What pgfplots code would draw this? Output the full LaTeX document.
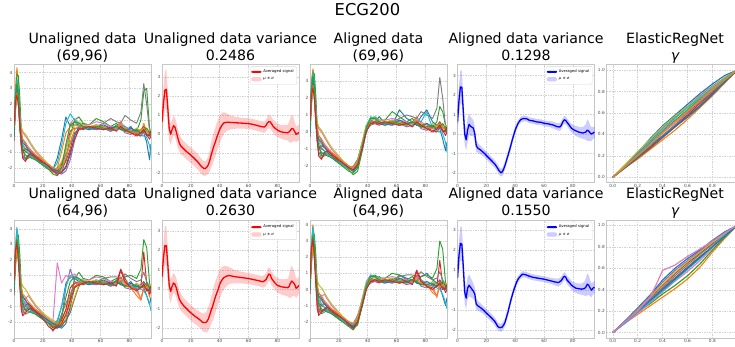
\documentclass[border=0pt]{standalone}
\usepackage{fontspec}
\setmainfont{DejaVu Sans}
\usepackage{pgfplots}
\usepackage{pgfplotstable}
\pgfplotsset{compat=1.18}
\usepgfplotslibrary{fillbetween}

\definecolor{c0}{HTML}{1F77B4}
\definecolor{c1}{HTML}{FF7F0E}
\definecolor{c2}{HTML}{2CA02C}
\definecolor{c3}{HTML}{D62728}
\definecolor{c4}{HTML}{9467BD}
\definecolor{c5}{HTML}{8C564B}
\definecolor{c6}{HTML}{E377C2}
\definecolor{c7}{HTML}{7F7F7F}
\definecolor{c8}{HTML}{BCBD22}
\definecolor{c9}{HTML}{17BECF}
\definecolor{mred}{HTML}{FF0000}
\definecolor{mblue}{HTML}{0000FF}
\definecolor{pred}{HTML}{FFCCCC}
\definecolor{pblue}{HTML}{CCCCFF}
\pgfplotscreateplotcyclelist{tab}{{c0},{c1},{c2},{c3},{c4},{c5},{c6},{c7},{c8},{c9}}

% ---------- Unaligned data, row 1 ----------
\pgfplotstableread{
name 0 1 2 3 4 5 6 8 10 12 15 18 21 24 27 30 33 36 39 42 45 48 52 57 62 67 71 74 77 81 85 88 90 92 94 95
a 0.5 2.5 3.6 2.8 0.8 -0.6 -1.3 -1.4 -1.2 -1.3 -1.5 -1.6 -1.8 -2.0 -2.1 -1.4 -0.2 1.2 0.6 0.9 0.6 0.8 0.5 0.4 0.5 0.3 0.7 0.5 0.3 0.6 0.1 0.4 0.2 -0.4 -1.5 -0.5
b 0.0 3.0 4.3 3.5 1.5 0.0 -0.5 -0.8 -1.0 -1.2 -1.4 -1.6 -1.9 -2.1 -2.3 -2.0 -1.0 0.2 0.6 0.7 0.6 0.6 0.5 0.6 0.4 0.5 0.6 0.9 0.5 0.3 0.4 0.2 0.8 0.3 0.0 0.2
c 0.2 2.0 3.9 3.8 2.5 0.5 -0.8 -1.5 -1.3 -1.2 -1.3 -1.5 -1.7 -1.9 -2.0 -2.2 -2.3 -1.5 0.0 1.0 1.2 0.8 0.7 1.1 0.9 0.6 0.8 0.5 0.4 0.5 0.3 1.0 2.8 3.0 0.5 0.2
d 0.5 1.8 2.8 2.5 0.5 -0.5 -1.0 -0.8 -0.9 -1.0 -1.2 -1.4 -1.6 -1.8 -2.0 -2.2 -1.8 -0.8 0.3 0.5 0.5 0.4 0.6 0.5 0.4 0.6 0.5 0.7 0.3 0.2 0.1 0.0 0.3 0.1 -0.2 0.0
e 1.0 2.5 3.0 2.2 1.0 0.2 -0.2 -0.5 -0.8 -1.0 -1.3 -1.5 -1.7 -1.9 -2.1 -2.3 -2.4 -2.2 -1.5 -0.3 0.5 0.6 0.5 0.4 0.5 0.3 0.4 0.6 0.2 0.1 0.3 0.2 0.5 0.0 0.1 0.3
f -0.3 1.5 2.6 2.0 0.6 -0.3 -0.8 -1.0 -1.1 -1.2 -1.4 -1.6 -1.8 -2.0 -2.2 -2.3 -2.0 -1.6 -0.8 0.2 0.4 0.6 0.5 0.7 0.6 0.5 0.6 0.4 0.4 0.2 0.3 0.4 0.6 0.3 0.2 0.0
g 0.8 2.2 2.9 2.4 1.5 0.5 0.2 0.0 -0.3 -0.6 -1.0 -1.3 -1.6 -1.9 -2.2 -2.5 -2.2 -1.0 0.8 1.1 0.8 0.7 0.7 0.9 0.8 0.6 0.5 0.8 0.6 0.4 0.3 0.1 0.4 0.2 0.3 0.4
h 0.3 2.8 3.4 2.6 0.8 -0.5 -1.2 -1.5 -1.4 -1.3 -1.5 -1.7 -1.9 -2.1 -2.2 -2.0 -1.7 -1.2 -0.5 0.1 0.4 0.5 0.4 0.6 0.8 1.1 0.9 0.8 1.3 1.0 0.8 1.5 3.3 2.0 0.3 0.1
i 0.4 1.9 2.4 2.0 1.2 0.6 0.3 0.1 -0.2 -0.5 -0.9 -1.2 -1.5 -1.8 -2.0 -2.1 -1.6 -0.9 0.0 0.7 0.9 0.7 0.6 0.7 0.5 0.4 0.6 0.5 0.3 0.2 0.5 0.3 0.4 0.2 0.4 0.3
j 0.1 2.6 3.5 3.0 1.2 0.0 -0.6 -0.9 -1.1 -1.3 -1.5 -1.7 -1.8 -2.0 -2.1 -1.7 -0.6 0.8 1.4 1.0 0.7 0.6 0.5 0.5 0.4 0.5 0.4 0.7 0.6 0.3 0.2 0.1 0.0 -0.1 -0.6 -1.2
k 0.0 2.2 3.2 2.6 1.0 0.0 -0.4 -0.6 -0.9 -1.1 -1.3 -1.5 -1.7 -1.9 -2.1 -2.2 -2.3 -2.0 -1.2 0.0 0.6 0.5 0.4 0.5 0.7 0.5 0.6 0.4 0.3 0.5 0.3 0.2 0.4 0.1 0.0 0.3
l 0.6 2.0 2.7 2.2 1.0 0.3 -0.2 -0.4 -0.7 -0.9 -1.2 -1.4 -1.6 -1.8 -2.0 -2.1 -1.9 -1.4 -0.4 0.4 0.6 0.5 0.6 0.5 0.6 0.4 0.5 0.7 0.4 0.3 0.2 0.4 0.5 0.3 0.1 0.2
m 0.3 2.4 3.3 2.7 1.1 -0.2 -0.9 -1.2 -1.3 -1.4 -1.5 -1.7 -1.9 -2.1 -2.4 -2.5 -2.0 -0.5 0.7 0.9 0.8 0.6 0.5 0.6 0.5 0.4 0.6 0.5 0.3 0.3 0.4 0.2 0.3 0.5 0.2 0.1
n 0.7 2.1 2.6 2.0 0.8 -0.4 -1.4 -1.6 -1.2 -1.1 -1.3 -1.5 -1.7 -1.9 -2.2 -2.4 -2.3 -1.9 -1.0 -0.2 0.4 0.5 0.6 0.5 0.4 0.5 0.3 0.6 0.4 0.2 0.0 0.2 0.4 0.0 0.1 0.3
}\rawUA
\pgfplotstabletranspose[colnames from=name, input colnames to=x]{\tabUA}{\rawUA}

% ---------- Aligned data, row 1 ----------
\pgfplotstableread{
name 0 1 2 3 4 5 6 8 10 12 15 18 21 24 27 30 33 36 39 42 45 48 52 57 62 67 71 74 77 81 85 88 90 92 94 95
a 0.5 2.6 3.6 2.7 0.8 -0.5 -1.2 -1.3 -1.2 -1.3 -1.5 -1.6 -1.8 -2.0 -2.1 -2.3 -1.8 -0.9 0.2 0.7 0.6 0.9 0.5 0.4 1.3 0.8 0.6 0.5 0.9 1.3 0.6 0.4 0.2 -0.4 -1.1 -0.6
b 0.0 3.0 3.7 3.3 1.4 0.0 -0.5 -0.7 -0.9 -1.1 -1.3 -1.5 -1.7 -1.9 -2.1 -2.3 -2.0 -1.0 0.1 0.6 0.6 0.6 0.5 0.6 0.4 0.5 0.6 0.9 0.5 0.3 0.4 0.2 0.6 0.3 0.0 0.2
c 0.2 2.1 3.5 3.4 2.2 0.4 -0.8 -1.4 -1.3 -1.3 -1.4 -1.6 -1.8 -2.0 -2.2 -2.5 -2.3 -1.2 0.0 0.8 0.9 0.7 0.7 1.2 0.9 0.6 0.8 0.5 0.4 0.5 0.3 0.6 1.5 1.2 0.4 0.2
d 0.5 1.8 2.8 2.5 0.5 -0.5 -1.0 -0.8 -0.9 -1.0 -1.2 -1.4 -1.6 -1.8 -2.0 -2.1 -1.7 -0.7 0.3 0.5 0.5 0.4 0.6 0.5 0.4 0.6 0.5 0.7 0.3 0.2 0.1 0.0 0.3 0.1 -0.2 0.0
e 1.0 2.5 3.0 2.2 1.0 0.2 -0.2 -0.5 -0.8 -1.0 -1.3 -1.5 -1.7 -1.9 -2.0 -2.1 -1.8 -0.9 0.2 0.5 0.6 0.6 0.5 0.4 0.5 0.3 0.4 0.6 0.2 0.1 0.3 0.2 0.5 0.0 0.1 0.3
f -0.3 1.5 2.6 2.0 0.6 -0.3 -0.8 -1.0 -1.1 -1.2 -1.4 -1.6 -1.8 -2.0 -2.1 -2.2 -1.9 -0.8 0.3 0.5 0.5 0.6 0.5 0.7 0.6 0.5 0.6 0.4 0.4 0.2 0.3 0.4 0.6 0.3 0.2 0.0
g 0.8 2.2 2.9 2.4 1.5 0.5 0.2 0.0 -0.3 -0.6 -1.0 -1.3 -1.6 -1.8 -2.0 -2.2 -1.9 -0.8 0.4 0.8 0.7 0.7 0.7 0.8 0.7 0.6 0.5 0.8 0.6 0.4 0.3 0.1 0.4 0.2 0.3 0.4
h 0.3 2.8 3.4 2.6 0.8 -0.5 -1.2 -1.5 -1.4 -1.3 -1.5 -1.7 -1.9 -2.0 -2.1 -2.0 -1.6 -0.7 0.1 0.4 0.5 0.5 0.4 0.6 0.8 1.0 0.9 0.8 1.2 1.0 0.8 1.4 3.2 2.0 0.3 0.1
i 0.4 1.9 2.4 2.0 1.2 0.6 0.3 0.1 -0.2 -0.5 -0.9 -1.2 -1.5 -1.8 -2.0 -2.1 -1.7 -0.6 0.4 0.7 0.8 0.7 0.6 0.7 0.5 0.4 0.6 0.5 0.3 0.2 0.5 0.3 0.4 0.2 0.4 0.3
j 0.1 2.6 3.5 3.0 1.2 0.0 -0.6 -0.9 -1.1 -1.3 -1.5 -1.7 -1.8 -2.0 -2.1 -2.2 -1.8 -0.8 0.3 0.9 0.8 0.6 0.5 0.5 0.4 0.5 0.4 0.7 0.6 1.2 0.2 0.1 0.0 -0.1 -0.6 -1.2
k 0.0 2.2 3.2 2.6 1.0 0.0 -0.4 -0.6 -0.9 -1.1 -1.3 -1.5 -1.7 -1.9 -2.1 -2.3 -2.0 -1.1 0.0 0.6 0.6 0.5 0.4 0.5 0.7 0.5 0.6 0.4 0.3 0.5 0.3 0.2 0.4 0.1 0.0 0.3
l 0.6 2.0 2.7 2.2 1.0 0.3 -0.2 -0.4 -0.7 -0.9 -1.2 -1.4 -1.6 -1.8 -2.0 -2.1 -1.8 -0.9 0.2 0.6 0.6 0.5 0.6 0.5 0.6 0.4 0.5 0.7 0.4 0.3 0.2 0.4 0.5 0.3 0.1 0.2
m 0.3 2.4 3.3 2.7 1.1 -0.2 -0.9 -1.2 -1.3 -1.4 -1.5 -1.7 -1.9 -2.1 -2.3 -2.4 -2.1 -1.0 0.2 0.8 0.8 0.6 0.5 0.6 0.5 0.4 0.6 0.5 0.3 0.3 0.4 0.2 0.3 0.5 0.2 0.1
n 0.7 2.1 2.6 2.0 0.8 -0.4 -1.4 -1.6 -1.2 -1.1 -1.3 -1.5 -1.7 -1.9 -2.1 -2.2 -1.9 -1.0 0.0 0.5 0.6 0.5 0.6 0.5 0.4 0.5 0.3 0.6 0.4 0.2 0.0 0.2 0.4 0.0 0.1 0.3
}\rawAA
\pgfplotstabletranspose[colnames from=name, input colnames to=x]{\tabAA}{\rawAA}

% ---------- Unaligned data, row 2 ----------
\pgfplotstableread{
name 0 1 2 3 4 5 6 8 10 12 15 18 21 24 27 30 33 36 39 42 45 48 52 57 62 67 71 74 77 81 85 88 90 92 94 95
a 0.3 2.4 3.3 2.6 0.9 -0.4 -1.0 -1.2 -1.1 -1.3 -1.4 -1.6 -1.8 -2.0 -2.2 -2.0 -1.0 0.5 0.9 0.8 0.6 0.7 0.5 0.4 0.6 0.3 0.7 0.5 0.3 0.6 0.1 0.3 0.2 -0.3 -0.9 -0.4
b 0.0 2.8 4.0 3.2 1.3 0.0 -0.5 -0.8 -1.0 -1.2 -1.4 -1.6 -1.8 -2.0 -2.2 -2.3 -1.8 -1.2 -0.3 0.5 0.6 0.6 0.5 0.7 0.4 0.5 0.6 0.9 0.5 0.2 -0.3 -0.6 0.2 0.3 -0.4 0.2
c 0.2 2.0 3.5 3.6 2.4 0.5 -0.7 -1.3 -1.2 -1.2 -1.3 -1.5 -1.7 -1.9 -2.0 -2.2 -2.3 -1.8 -0.5 0.8 1.2 0.8 0.7 1.0 0.9 0.6 0.8 0.5 0.9 1.0 0.8 1.4 3.3 2.8 0.5 0.2
d 0.6 2.2 3.3 2.9 0.8 -0.9 -1.5 -0.9 -0.8 -1.0 -1.2 -1.4 -1.6 -2.0 -2.4 -2.2 -1.9 -1.2 0.2 0.5 0.5 0.4 0.6 0.5 0.4 0.6 0.5 1.4 0.8 0.2 0.1 0.3 2.5 0.5 -0.2 0.0
e 1.0 2.4 2.9 2.2 1.0 0.2 -0.3 -0.6 -0.9 -1.1 -1.3 -1.5 -1.7 -1.9 -2.1 -2.2 -1.7 0.2 1.4 0.6 0.5 0.6 0.5 0.4 0.5 0.3 0.4 0.6 0.2 0.1 0.3 0.2 0.5 0.0 0.1 0.3
f -0.3 1.5 2.5 2.0 0.6 -0.3 -0.8 -1.0 -1.1 -1.2 -1.4 -1.6 -1.8 -2.0 -2.3 -2.4 -2.2 -1.9 -1.4 -0.5 0.3 0.6 0.5 0.7 0.6 0.5 0.6 0.4 0.4 0.2 0.3 0.4 0.6 0.3 0.2 0.0
g 0.8 2.2 2.9 2.4 1.5 0.5 -1.5 -0.5 -0.3 -0.6 -1.0 -1.3 -1.6 -1.9 -2.0 1.8 0.5 1.0 0.8 1.1 0.8 0.7 0.7 0.9 0.8 0.6 0.5 0.8 0.6 0.4 0.3 -0.6 0.4 0.2 0.3 0.4
h 0.3 2.6 3.2 2.5 0.8 -0.5 -1.2 -1.5 -1.4 -1.3 -1.5 -1.7 -1.9 -2.1 -2.6 -2.2 -1.5 -0.8 -0.2 0.3 0.4 0.5 0.4 0.6 0.8 0.9 0.9 0.8 1.1 0.8 0.6 0.7 1.2 0.6 0.3 0.1
i 0.4 1.9 2.6 2.0 1.2 0.6 0.3 0.1 -0.2 -0.5 -0.9 -1.2 -1.5 -1.7 -1.9 -2.0 -2.1 -1.8 -1.2 -0.4 0.4 0.7 0.6 0.7 0.5 0.4 0.6 0.5 0.3 0.2 0.5 0.3 0.4 0.2 0.4 0.3
j 0.1 2.7 4.1 3.0 1.2 0.0 -0.6 -0.9 -1.1 -1.3 -1.5 -1.7 -1.8 -2.0 -2.1 -1.9 -1.0 0.3 1.0 0.9 0.7 0.6 0.5 0.5 0.4 0.5 0.4 0.7 0.6 0.3 0.2 0.1 0.0 -0.3 -0.8 -1.3
k 0.0 2.2 3.0 2.5 1.0 0.0 -0.4 -0.6 -0.9 -1.1 -1.3 -1.5 -1.7 -1.9 -2.1 -2.3 -2.4 -2.1 -1.0 0.2 0.6 0.5 0.4 0.5 0.7 0.5 0.6 0.4 0.3 0.5 0.3 0.2 0.4 0.1 0.0 0.3
l 0.6 2.0 2.7 2.2 1.0 0.3 -0.2 -0.4 -0.7 -0.9 -1.2 -1.4 -1.6 -1.8 -2.0 -2.1 -2.0 -1.6 -0.8 0.2 0.6 0.5 0.6 0.5 0.6 0.4 0.5 0.7 0.4 0.3 0.0 -0.5 0.1 0.3 0.1 0.2
m 0.3 2.4 3.3 2.7 1.1 -0.2 -0.9 -1.2 -1.3 -1.4 -1.5 -1.7 -1.9 -2.1 -2.3 -2.4 -1.7 -0.4 0.6 0.9 0.8 0.6 0.5 0.6 0.5 0.4 0.6 0.5 0.3 0.3 0.4 0.2 0.3 0.5 0.2 0.1
n 0.7 2.6 3.1 2.0 0.3 -1.2 -1.6 -1.4 -1.2 -1.1 -1.3 -1.6 -1.9 -2.3 -2.5 -2.3 -2.1 -1.5 -0.6 0.2 0.4 0.5 0.6 0.5 0.4 0.5 0.3 1.3 0.6 0.2 0.0 0.2 0.4 0.0 0.1 0.3
}\rawUB
\pgfplotstabletranspose[colnames from=name, input colnames to=x]{\tabUB}{\rawUB}

% ---------- Aligned data, row 2 ----------
\pgfplotstableread{
name 0 1 2 3 4 5 6 8 10 12 15 18 21 24 27 30 33 36 39 42 45 48 52 57 62 67 71 74 77 81 85 88 90 92 94 95
a 0.4 2.5 3.5 2.7 0.8 -0.5 -1.2 -1.3 -1.2 -1.3 -1.5 -1.6 -1.8 -2.0 -2.2 -2.3 -1.8 -0.8 0.2 0.7 0.6 0.8 0.5 0.4 0.9 0.7 0.6 0.5 0.8 1.0 0.6 0.4 0.2 -0.4 -1.0 -0.5
b 0.0 2.9 4.0 3.3 1.4 0.0 -0.5 -0.7 -0.9 -1.1 -1.3 -1.5 -1.7 -1.9 -2.1 -2.3 -2.0 -1.0 0.1 0.6 0.6 0.6 0.5 0.6 0.4 0.5 0.6 0.9 0.5 0.3 -0.2 -0.4 0.4 0.3 0.0 0.2
c 0.2 2.1 3.4 3.4 2.2 0.4 -0.8 -1.4 -1.3 -1.3 -1.4 -1.6 -1.8 -2.0 -2.2 -2.4 -2.2 -1.1 0.0 0.8 0.9 0.7 0.7 1.0 0.9 0.6 0.8 0.5 0.8 0.9 0.7 1.3 3.0 2.5 0.4 0.2
d 0.6 2.2 3.2 2.8 0.7 -0.9 -1.5 -0.9 -0.9 -1.0 -1.2 -1.4 -1.6 -1.8 -2.1 -2.3 -1.8 -0.8 0.3 0.5 0.5 0.4 0.6 0.5 0.4 0.6 0.5 1.2 0.6 0.2 0.1 0.2 1.8 0.3 -0.2 0.0
e 1.0 2.5 3.0 2.2 1.0 0.2 -0.2 -0.5 -0.8 -1.0 -1.3 -1.5 -1.7 -1.9 -2.0 -2.1 -1.7 -0.8 0.3 0.6 0.6 0.6 0.5 0.4 0.5 0.3 0.4 0.6 0.2 0.1 0.3 0.2 0.5 0.0 0.1 0.3
f -0.3 1.5 2.6 2.0 0.6 -0.3 -0.8 -1.0 -1.1 -1.2 -1.4 -1.6 -1.8 -2.0 -2.2 -2.4 -2.0 -0.9 0.2 0.5 0.5 0.6 0.5 0.7 0.6 0.5 0.6 0.4 0.4 0.2 0.3 0.4 0.6 0.3 0.2 0.0
g 0.8 2.2 2.9 2.4 1.5 0.5 -1.2 -0.4 -0.3 -0.6 -1.0 -1.3 -1.6 -1.8 -2.0 -2.2 -1.9 -0.7 0.5 0.9 0.7 0.7 0.7 0.8 0.7 0.6 0.5 0.8 0.6 0.4 0.3 -0.5 0.4 0.2 0.3 0.4
h 0.3 2.7 3.3 2.6 0.8 -0.5 -1.2 -1.5 -1.4 -1.3 -1.5 -1.7 -1.9 -2.0 -2.2 -2.1 -1.6 -0.7 0.1 0.4 0.5 0.5 0.4 0.6 0.8 0.9 0.9 0.8 1.1 0.8 0.6 0.7 1.1 0.6 0.3 0.1
i 0.4 1.9 2.5 2.0 1.2 0.6 0.3 0.1 -0.2 -0.5 -0.9 -1.2 -1.5 -1.8 -2.0 -2.1 -1.7 -0.6 0.4 0.7 0.8 0.7 0.6 0.7 0.5 0.4 0.6 0.5 0.3 0.2 0.5 0.3 0.4 0.2 0.4 0.3
j 0.1 2.7 3.9 3.0 1.2 0.0 -0.6 -0.9 -1.1 -1.3 -1.5 -1.7 -1.8 -2.0 -2.1 -2.2 -1.8 -0.8 0.3 0.9 0.8 0.6 0.5 0.5 0.4 0.5 0.4 0.7 0.6 0.3 0.2 0.1 0.0 -0.3 -0.8 -1.2
k 0.0 2.2 3.1 2.6 1.0 0.0 -0.4 -0.6 -0.9 -1.1 -1.3 -1.5 -1.7 -1.9 -2.1 -2.3 -2.0 -1.1 0.0 0.6 0.6 0.5 0.4 0.5 0.7 0.5 0.6 0.4 0.3 0.5 0.3 0.2 0.4 0.1 0.0 0.3
l 0.6 2.0 2.7 2.2 1.0 0.3 -0.2 -0.4 -0.7 -0.9 -1.2 -1.4 -1.6 -1.8 -2.0 -2.1 -1.8 -0.9 0.2 0.6 0.6 0.5 0.6 0.5 0.6 0.4 0.5 0.7 0.4 0.3 0.0 -0.4 0.2 0.3 0.1 0.2
m 0.3 2.4 3.3 2.7 1.1 -0.2 -0.9 -1.2 -1.3 -1.4 -1.5 -1.7 -1.9 -2.1 -2.3 -2.5 -2.1 -1.0 0.2 0.8 0.8 0.6 0.5 0.6 0.5 0.4 0.6 0.5 0.3 0.3 0.4 0.2 0.3 0.5 0.2 0.1
n 0.7 2.6 3.1 2.0 0.3 -1.2 -1.6 -1.4 -1.2 -1.1 -1.3 -1.5 -1.7 -1.9 -2.2 -2.4 -2.0 -1.0 0.0 0.5 0.6 0.5 0.6 0.5 0.4 0.5 0.3 1.1 0.5 0.2 0.0 0.2 0.4 0.0 0.1 0.3
}\rawAB
\pgfplotstabletranspose[colnames from=name, input colnames to=x]{\tabAB}{\rawAB}

% ---------- Mean and std, unaligned row 1 (red) ----------
\pgfplotstableread{
x m s
0 0.65 0.6
1 1.6 0.9
2 2.3 1.0
3 2.35 1.05
4 1.4 0.9
5 0.3 0.6
6 0.0 0.55
7 0.25 0.5
8 0.45 0.5
9 0.38 0.5
10 0.1 0.5
11 -0.2 0.5
12 -0.45 0.45
13 -0.6 0.45
15 -0.75 0.4
17 -0.9 0.4
19 -1.02 0.4
21 -1.15 0.4
23 -1.3 0.4
25 -1.45 0.4
27 -1.65 0.4
29 -1.78 0.38
30 -1.78 0.38
31 -1.72 0.4
32 -1.6 0.45
33 -1.4 0.55
34 -1.1 0.65
35 -0.85 0.7
36 -0.6 0.75
37 -0.4 0.75
38 -0.15 0.75
39 0.05 0.75
40 0.25 0.72
41 0.4 0.68
42 0.52 0.62
43 0.6 0.55
45 0.63 0.45
48 0.62 0.35
52 0.6 0.3
56 0.58 0.28
60 0.56 0.28
63 0.52 0.28
66 0.46 0.28
69 0.4 0.28
71 0.38 0.3
72 0.45 0.3
73 0.58 0.32
74 0.66 0.35
75 0.65 0.35
76 0.55 0.35
77 0.42 0.35
79 0.28 0.35
81 0.18 0.35
83 0.12 0.35
85 0.1 0.38
87 0.08 0.4
88 0.12 0.5
89 0.2 0.65
90 0.3 0.7
91 0.28 0.65
92 0.15 0.5
93 0.0 0.4
94 0.05 0.4
95 0.1 0.4
}\varUA

% ---------- Mean and std, aligned row 1 (blue) ----------
\pgfplotstableread{
x m s
0 0.6 0.5
1 1.7 0.75
2 2.42 0.85
3 2.4 0.85
4 1.2 0.7
5 0.0 0.55
6 -0.3 0.55
7 0.2 0.6
8 0.5 0.55
9 0.4 0.5
10 0.35 0.45
11 0.3 0.4
12 0.0 0.35
13 -0.6 0.3
14 -0.72 0.25
16 -0.82 0.22
18 -0.95 0.2
20 -1.1 0.2
22 -1.25 0.2
24 -1.4 0.2
26 -1.55 0.2
28 -1.78 0.2
29 -1.9 0.2
30 -1.98 0.2
31 -1.95 0.2
32 -1.8 0.2
33 -1.6 0.2
34 -1.35 0.2
35 -1.1 0.2
36 -0.85 0.2
37 -0.58 0.2
38 -0.3 0.2
39 -0.05 0.2
40 0.2 0.2
41 0.38 0.18
42 0.55 0.16
43 0.66 0.15
44 0.75 0.15
46 0.8 0.15
48 0.78 0.15
50 0.7 0.15
52 0.68 0.15
55 0.62 0.15
58 0.6 0.15
60 0.55 0.15
63 0.52 0.15
66 0.47 0.17
69 0.38 0.18
71 0.36 0.2
72 0.45 0.2
73 0.62 0.2
74 0.73 0.2
75 0.7 0.2
76 0.6 0.2
77 0.5 0.2
79 0.3 0.22
81 0.2 0.25
84 0.1 0.27
87 0.05 0.3
89 0.1 0.4
90 0.2 0.55
91 0.15 0.5
92 0.05 0.4
93 0.0 0.35
94 0.05 0.3
95 0.1 0.3
}\varAA

% ---------- Mean and std, unaligned row 2 (red) ----------
\pgfplotstableread{
x m s
0 0.63 0.6
1 1.6 0.85
2 2.24 1.0
3 2.24 1.0
4 1.3 0.9
5 0.2 0.65
6 -0.12 0.6
7 0.15 0.55
8 0.32 0.5
9 0.25 0.5
10 0.05 0.5
11 -0.25 0.48
12 -0.5 0.45
13 -0.65 0.45
15 -0.85 0.4
17 -1.0 0.4
19 -1.15 0.4
21 -1.28 0.4
23 -1.4 0.4
25 -1.5 0.4
27 -1.62 0.42
28 -1.7 0.45
30 -1.72 0.5
31 -1.68 0.55
32 -1.55 0.6
33 -1.35 0.65
34 -1.1 0.7
35 -0.9 0.75
36 -0.65 0.8
37 -0.4 0.8
38 -0.2 0.8
39 0.0 0.8
40 0.25 0.75
41 0.4 0.7
42 0.52 0.65
43 0.6 0.6
45 0.68 0.5
47 0.7 0.42
50 0.65 0.35
55 0.6 0.3
60 0.55 0.28
65 0.47 0.28
68 0.42 0.28
70 0.38 0.3
72 0.48 0.32
73 0.62 0.33
74 0.78 0.35
75 0.75 0.35
76 0.55 0.35
78 0.35 0.35
80 0.2 0.38
83 0.12 0.4
85 0.1 0.42
87 0.08 0.45
88 0.12 0.55
89 0.3 0.75
90 0.42 0.8
91 0.35 0.7
92 0.25 0.6
93 0.05 0.5
94 0.1 0.45
95 0.2 0.45
}\varUB

% ---------- Mean and std, aligned row 2 (blue) ----------
\pgfplotstableread{
x m s
0 0.6 0.5
1 1.7 0.75
2 2.35 0.85
3 2.3 0.85
4 1.2 0.75
5 -0.1 0.6
6 -0.4 0.55
7 0.1 0.55
8 0.25 0.55
9 0.15 0.5
10 0.05 0.45
11 -0.05 0.4
12 -0.2 0.35
13 -0.7 0.3
14 -0.78 0.25
16 -0.88 0.22
18 -1.0 0.2
20 -1.15 0.2
22 -1.28 0.2
24 -1.42 0.2
26 -1.58 0.2
28 -1.83 0.2
29 -1.87 0.2
30 -1.88 0.2
31 -1.85 0.2
32 -1.75 0.2
33 -1.6 0.2
34 -1.35 0.2
35 -1.1 0.2
36 -0.8 0.2
37 -0.5 0.2
38 -0.25 0.2
39 0.0 0.2
40 0.2 0.2
41 0.4 0.18
42 0.55 0.16
43 0.65 0.15
45 0.8 0.15
47 0.78 0.15
49 0.72 0.15
52 0.65 0.15
56 0.6 0.15
60 0.55 0.15
64 0.48 0.15
67 0.42 0.17
70 0.38 0.2
72 0.48 0.2
73 0.6 0.2
74 0.7 0.2
75 0.66 0.2
76 0.5 0.2
78 0.35 0.22
79 0.25 0.22
82 0.1 0.25
86 0.05 0.28
88 0.08 0.35
89 0.15 0.45
90 0.3 0.55
91 0.25 0.5
92 0.1 0.4
93 0.0 0.35
94 0.1 0.3
95 0.15 0.3
}\varAB

% ---------- Warping functions gamma ----------
\pgfplotstableread{
name 0 0.1 0.2 0.3 0.4 0.5 0.6 0.7 0.8 0.9 1.0
a 0 0.11 0.23 0.36 0.48 0.58 0.68 0.78 0.87 0.95 1
b 0 0.09 0.17 0.26 0.35 0.44 0.54 0.65 0.76 0.88 1
c 0 0.10 0.21 0.32 0.43 0.53 0.63 0.73 0.83 0.92 1
d 0 0.10 0.19 0.28 0.38 0.48 0.58 0.69 0.79 0.90 1
e 0 0.11 0.22 0.34 0.46 0.56 0.66 0.76 0.85 0.93 1
f 0 0.09 0.18 0.27 0.37 0.47 0.57 0.67 0.78 0.89 1
g 0 0.10 0.20 0.31 0.41 0.51 0.61 0.71 0.81 0.91 1
h 0 0.10 0.20 0.30 0.39 0.49 0.60 0.70 0.80 0.90 1
i 0 0.12 0.24 0.35 0.47 0.57 0.66 0.75 0.84 0.93 1
j 0 0.10 0.21 0.33 0.44 0.55 0.65 0.74 0.83 0.92 1
k 0 0.09 0.19 0.29 0.38 0.47 0.56 0.66 0.77 0.89 1
l 0 0.10 0.20 0.30 0.42 0.52 0.62 0.72 0.82 0.91 1
}\rawGA
\pgfplotstabletranspose[colnames from=name, input colnames to=x]{\tabGA}{\rawGA}

\pgfplotstableread{
name 0 0.1 0.2 0.3 0.4 0.5 0.6 0.7 0.8 0.9 1.0
b 0 0.11 0.23 0.35 0.49 0.60 0.69 0.77 0.86 0.94 1
c 0 0.09 0.17 0.25 0.33 0.41 0.50 0.61 0.75 0.88 1
d 0 0.10 0.19 0.27 0.36 0.44 0.53 0.64 0.77 0.89 1
e 0 0.10 0.21 0.32 0.44 0.55 0.65 0.74 0.83 0.92 1
f 0 0.11 0.22 0.34 0.47 0.58 0.67 0.76 0.85 0.93 1
g 0 0.10 0.20 0.30 0.41 0.51 0.61 0.71 0.80 0.90 1
h 0 0.09 0.18 0.28 0.38 0.48 0.57 0.67 0.79 0.90 1
i 0 0.10 0.20 0.31 0.42 0.53 0.63 0.73 0.82 0.91 1
j 0 0.10 0.21 0.33 0.45 0.56 0.66 0.75 0.84 0.92 1
k 0 0.09 0.19 0.29 0.39 0.49 0.59 0.69 0.80 0.91 1
l 0 0.10 0.20 0.30 0.40 0.50 0.60 0.70 0.80 0.90 1
}\rawGB
\pgfplotstabletranspose[colnames from=name, input colnames to=x]{\tabGB}{\rawGB}

\pgfplotsset{
  base/.style={
    scale only axis, anchor=south west, width=137bp, height=118bp,
    grid=major,
    grid style={gray!35, line width=0.4bp, dash pattern=on 1.5bp off 1bp},
    axis line style={gray!45, line width=0.5bp},
    major tick length=0pt, tick style={draw=none},
    ticklabel style={font=\fontsize{4.3}{5}\selectfont, text=black!70},
    xticklabel style={inner sep=1.2bp},
    yticklabel style={inner sep=1.5bp},
    /pgf/number format/assume math mode=true,
    cycle list name=tab,
    every axis plot/.append style={line width=0.95bp, line join=round},
  },
  ecg/.style={base, xmin=0, xmax=95, xtick={0,20,40,60,80}, ytick={-2,-1,0,1,2,3,4}},
  gam/.style={base, xmin=-0.05, xmax=1.05, ymin=-0.05, ymax=1.05,
    xtick={0,0.2,0.4,0.6,0.8}, ytick={0,0.2,0.4,0.6,0.8,1.0},
    /pgf/number format/.cd, fixed, fixed zerofill, precision=1,
    /pgfplots/.cd, every axis plot/.append style={line width=1.15bp}},
  varp/.style={ecg,
    legend style={at={(0.985,0.985)}, anchor=north east,
      font=\fontsize{3.8}{4.4}\selectfont, draw=gray!30, rounded corners=1bp,
      fill=white, inner sep=1bp, row sep=-0.6bp, cells={anchor=west}}},
}

\newcommand{\tfont}{\fontsize{14.2}{17}\selectfont}

\begin{document}
\begin{tikzpicture}

\node[anchor=base, font=\fontsize{16.4}{19}\selectfont] at (367.5bp,331bp) {ECG200};

% titles row 1
\node[anchor=base, font=\tfont] at (82.5bp,303bp) {Unaligned data};
\node[anchor=base, font=\tfont] at (82.5bp,286.5bp) {(69,96)};
\node[anchor=base, font=\tfont] at (230.5bp,303bp) {Unaligned data variance};
\node[anchor=base, font=\tfont] at (230.5bp,286.5bp) {0.2486};
\node[anchor=base, font=\tfont] at (378.5bp,303bp) {Aligned data};
\node[anchor=base, font=\tfont] at (378.5bp,286.5bp) {(69,96)};
\node[anchor=base, font=\tfont] at (526bp,303bp) {Aligned data variance};
\node[anchor=base, font=\tfont] at (526bp,286.5bp) {0.1298};
\node[anchor=base, font=\tfont] at (675bp,303bp) {ElasticRegNet};
\node[anchor=base, font=\tfont] at (675bp,286.5bp) {\itshape γ};

% titles row 2
\node[anchor=base, font=\tfont] at (82.5bp,148bp) {Unaligned data};
\node[anchor=base, font=\tfont] at (82.5bp,131.5bp) {(64,96)};
\node[anchor=base, font=\tfont] at (230.5bp,148bp) {Unaligned data variance};
\node[anchor=base, font=\tfont] at (230.5bp,131.5bp) {0.2630};
\node[anchor=base, font=\tfont] at (378.5bp,148bp) {Aligned data};
\node[anchor=base, font=\tfont] at (378.5bp,131.5bp) {(64,96)};
\node[anchor=base, font=\tfont] at (526bp,148bp) {Aligned data variance};
\node[anchor=base, font=\tfont] at (526bp,131.5bp) {0.1550};
\node[anchor=base, font=\tfont] at (675bp,148bp) {ElasticRegNet};
\node[anchor=base, font=\tfont] at (675bp,131.5bp) {\itshape γ};

% ===== Row 1 =====
\begin{axis}[ecg, at={(14bp,164.3bp)}, ymin=-2.94, ymax=4.49]
\pgfplotsinvokeforeach{a,b,c,d,e,f,g,h,i,j,k,l,m,n}{\addplot table[x=x,y=#1]{\tabUA};}
\end{axis}

\begin{axis}[varp, at={(162bp,164.3bp)}, ymin=-2.52, ymax=3.63]
\addplot[name path=upA, draw=none, forget plot] table[x=x, y expr=\thisrow{m}+\thisrow{s}]{\varUA};
\addplot[name path=loA, draw=none, forget plot] table[x=x, y expr=\thisrow{m}-\thisrow{s}]{\varUA};
\addplot[fill=mred, fill opacity=0.2, draw=none, forget plot] fill between[of=upA and loA];
\addplot[color=mred, line width=1.3bp, forget plot] table[x=x, y=m]{\varUA};
\addlegendimage{legend image code/.code={\fill[mred] (0bp,-0.6bp) rectangle (9bp,0.6bp);}}
\addlegendimage{legend image code/.code={\fill[pred] (0bp,-1.6bp) rectangle (9bp,1.8bp);}}
\legend{Averaged signal, {\itshape μ} ± {\itshape σ}}
\end{axis}

\begin{axis}[ecg, at={(310bp,164.3bp)}, ymin=-2.97, ymax=3.95]
\pgfplotsinvokeforeach{a,b,c,d,e,f,g,h,i,j,k,l,m,n}{\addplot table[x=x,y=#1]{\tabAA};}
\end{axis}

\begin{axis}[varp, at={(457.5bp,164.3bp)}, ymin=-2.5, ymax=3.56]
\addplot[name path=upB, draw=none, forget plot] table[x=x, y expr=\thisrow{m}+\thisrow{s}]{\varAA};
\addplot[name path=loB, draw=none, forget plot] table[x=x, y expr=\thisrow{m}-\thisrow{s}]{\varAA};
\addplot[fill=mblue, fill opacity=0.2, draw=none, forget plot] fill between[of=upB and loB];
\addplot[color=mblue, line width=1.3bp, forget plot] table[x=x, y=m]{\varAA};
\addlegendimage{legend image code/.code={\fill[mblue] (0bp,-0.6bp) rectangle (9bp,0.6bp);}}
\addlegendimage{legend image code/.code={\fill[pblue] (0bp,-1.6bp) rectangle (9bp,1.8bp);}}
\legend{Averaged signal, {\itshape μ} ± {\itshape σ}}
\end{axis}

\begin{axis}[gam, at={(606.5bp,164.3bp)}]
\pgfplotsinvokeforeach{a,b,c,d,e,f,g,h,i,j,k,l}{\addplot table[x=x,y=#1]{\tabGA};}
\end{axis}

% ===== Row 2 =====
\begin{axis}[ecg, at={(14bp,9bp)}, ymin=-3.03, ymax=4.56]
\pgfplotsinvokeforeach{a,b,c,d,e,f,g,h,i,j,k,l,m,n}{\addplot table[x=x,y=#1]{\tabUB};}
\end{axis}

\begin{axis}[varp, at={(162bp,9bp)}, ymin=-2.51, ymax=3.56]
\addplot[name path=upC, draw=none, forget plot] table[x=x, y expr=\thisrow{m}+\thisrow{s}]{\varUB};
\addplot[name path=loC, draw=none, forget plot] table[x=x, y expr=\thisrow{m}-\thisrow{s}]{\varUB};
\addplot[fill=mred, fill opacity=0.2, draw=none, forget plot] fill between[of=upC and loC];
\addplot[color=mred, line width=1.3bp, forget plot] table[x=x, y=m]{\varUB};
\addlegendimage{legend image code/.code={\fill[mred] (0bp,-0.6bp) rectangle (9bp,0.6bp);}}
\addlegendimage{legend image code/.code={\fill[pred] (0bp,-1.6bp) rectangle (9bp,1.8bp);}}
\legend{Averaged signal, {\itshape μ} ± {\itshape σ}}
\end{axis}

\begin{axis}[ecg, at={(310bp,9bp)}, ymin=-3.0, ymax=4.3]
\pgfplotsinvokeforeach{a,b,c,d,e,f,g,h,i,j,k,l,m,n}{\addplot table[x=x,y=#1]{\tabAB};}
\end{axis}

\begin{axis}[varp, at={(457.5bp,9bp)}, ymin=-2.4, ymax=3.52]
\addplot[name path=upD, draw=none, forget plot] table[x=x, y expr=\thisrow{m}+\thisrow{s}]{\varAB};
\addplot[name path=loD, draw=none, forget plot] table[x=x, y expr=\thisrow{m}-\thisrow{s}]{\varAB};
\addplot[fill=mblue, fill opacity=0.2, draw=none, forget plot] fill between[of=upD and loD];
\addplot[color=mblue, line width=1.3bp, forget plot] table[x=x, y=m]{\varAB};
\addlegendimage{legend image code/.code={\fill[mblue] (0bp,-0.6bp) rectangle (9bp,0.6bp);}}
\addlegendimage{legend image code/.code={\fill[pblue] (0bp,-1.6bp) rectangle (9bp,1.8bp);}}
\legend{Averaged signal, {\itshape μ} ± {\itshape σ}}
\end{axis}

\begin{axis}[gam, at={(606.5bp,9bp)}]
\pgfplotsinvokeforeach{b,c,d,e,f,g,h,i,j,k,l}{\addplot table[x=x,y=#1]{\tabGB};}
\addplot[c6] coordinates {(0,0) (0.1,0.1) (0.2,0.2) (0.3,0.33) (0.35,0.45) (0.4,0.58) (0.5,0.63) (0.6,0.71) (0.7,0.78) (0.8,0.85) (0.9,0.93) (1,1)};
\end{axis}

\pgfresetboundingbox
\useasboundingbox (0,0) rectangle (735bp,347bp);
\end{tikzpicture}
\end{document}
